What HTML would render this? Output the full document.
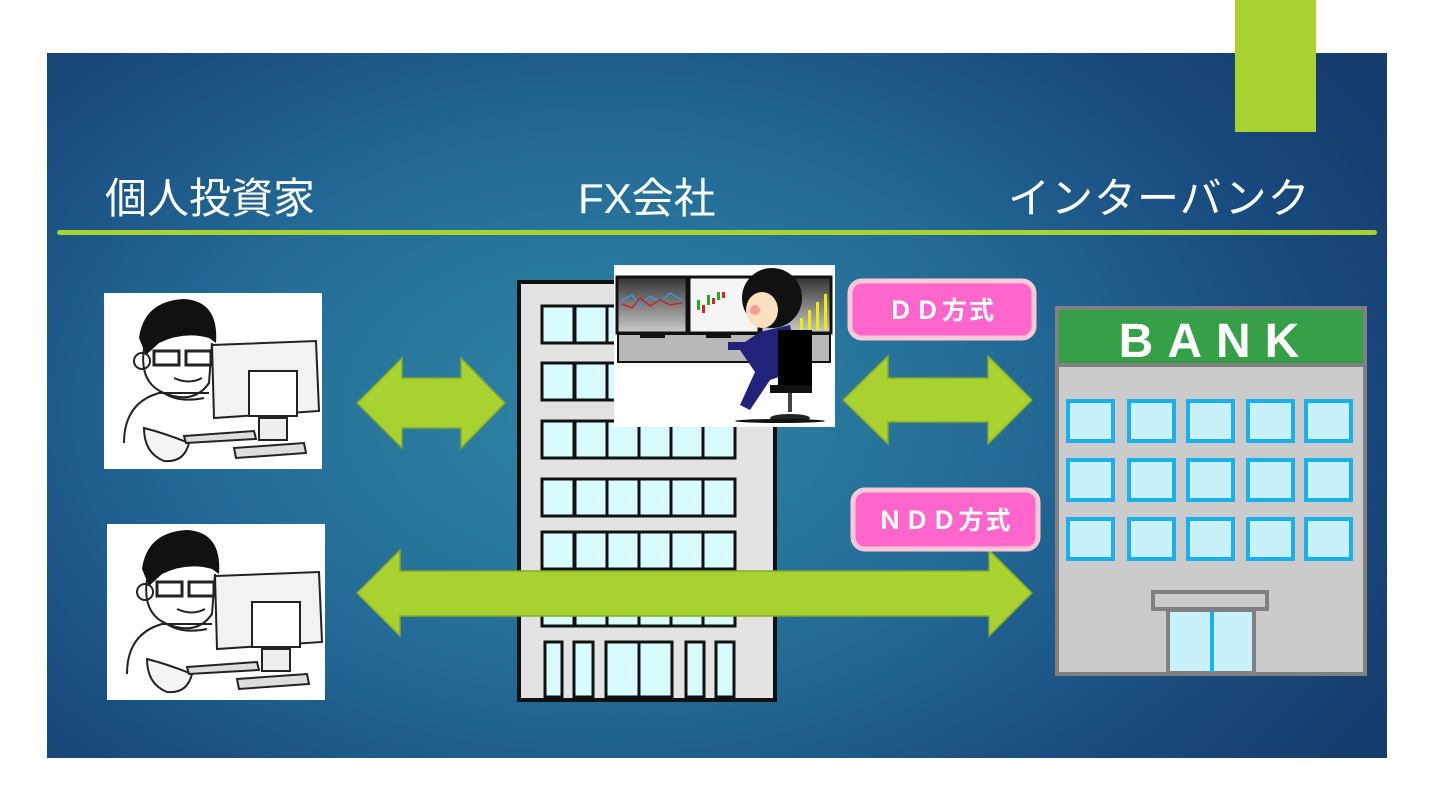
<!DOCTYPE html>
<html><head><meta charset="utf-8"><style>
html,body{margin:0;padding:0;background:#fff;}
body{width:1438px;height:812px;position:relative;overflow:hidden;font-family:"Liberation Sans","Noto Sans CJK JP",sans-serif;}
#slide{position:absolute;left:47px;top:53px;width:1340px;height:705px;
background:radial-gradient(ellipse 900px 600px at 560px 360px,#2f86a6 0%,#236b96 45%,#1a4d80 75%,#163c6d 100%);}
.t{position:absolute;color:#fff;font-size:42px;white-space:nowrap;line-height:1;}
</style></head><body>
<div id="slide"></div>
<div style="position:absolute;left:1235px;top:0;width:81px;height:132px;background:#a8d22f;"></div>
<div style="position:absolute;left:57px;top:230px;width:1320px;height:5px;border-radius:3px;background:#a8d22f;"></div>
<div class="t" style="left:105px;top:178px;">個人投資家</div>
<div class="t" style="left:578px;top:178px;">FX会社</div>
<div class="t" style="left:1008px;top:178px;letter-spacing:1px;">インターバンク</div>

<svg width="1438" height="812" style="position:absolute;left:0;top:0">
<defs>
<g id="person">
<rect x="0" y="0" width="218" height="176" fill="#fff"/>
<path d="M35 45 Q40 8 80 6 Q115 8 112 50 L105 45 Q80 38 55 50 L42 62 Z" fill="#111"/>
<path d="M40 55 Q35 90 60 100 Q90 112 105 90 L108 50" fill="none" stroke="#222" stroke-width="2"/>
<circle cx="38" cy="68" r="8" fill="none" stroke="#222" stroke-width="2"/>
<rect x="50" y="58" width="25" height="14" fill="none" stroke="#222" stroke-width="3"/>
<rect x="82" y="58" width="25" height="14" fill="none" stroke="#222" stroke-width="3"/>
<path d="M70 85 Q85 92 98 85" fill="none" stroke="#222" stroke-width="2"/>
<path d="M20 150 Q20 110 55 100 L105 100 M60 100 Q75 110 100 105" fill="none" stroke="#222" stroke-width="2"/>
<path d="M40 135 Q60 140 85 150 Q80 170 60 168 Q40 160 40 135Z" fill="#f4f4f4" stroke="#222" stroke-width="2"/>
<path d="M108 52 L212 48 L215 118 L110 125 Z" fill="#f2f2f2" stroke="#222" stroke-width="2"/>
<rect x="145" y="78" width="48" height="45" fill="#fff" stroke="#222" stroke-width="2"/>
<rect x="155" y="125" width="28" height="22" fill="#eee" stroke="#222" stroke-width="2"/>
<path d="M80 143 L150 138 L152 146 L82 150Z" fill="#ddd" stroke="#222" stroke-width="2"/>
<path d="M130 155 L200 150 L202 160 L132 165Z" fill="#ddd" stroke="#222" stroke-width="2"/>
</g>
<linearGradient id="scr" x1="0" y1="0" x2="0" y2="1"><stop offset="0" stop-color="#333"/><stop offset="1" stop-color="#ccc"/></linearGradient>
</defs>
<use href="#person" x="104" y="293"/>
<use href="#person" x="107" y="524"/>

<!-- FX building -->
<rect x="519" y="282" width="256" height="418" fill="#e3e3e3" stroke="#111" stroke-width="4"/>
<g fill="#d8fcfe" stroke="#111" stroke-width="3">
<g id="row">
<rect x="542" y="306" width="32" height="37"/><rect x="575" y="306" width="32" height="37"/><rect x="607" y="306" width="32" height="37"/><rect x="639" y="306" width="32" height="37"/><rect x="671" y="306" width="32" height="37"/><rect x="703" y="306" width="32" height="37"/>
</g>
<use href="#row" y="57"/><use href="#row" y="115"/><use href="#row" y="173"/><use href="#row" y="226"/><use href="#row" y="283"/>
<rect x="545" y="642" width="17" height="55"/><rect x="574" y="642" width="19" height="55"/><rect x="606" y="642" width="33" height="55"/><rect x="639" y="642" width="33" height="55"/><rect x="686" y="642" width="18" height="55"/><rect x="716" y="642" width="18" height="55"/>
</g>

<!-- trader -->
<rect x="614" y="265" width="221" height="162" fill="#fff"/>
<rect x="617" y="277" width="70" height="56" fill="url(#scr)" stroke="#111" stroke-width="3"/>
<polyline points="622,300 632,295 640,305 650,296 660,302 670,293 682,300" fill="none" stroke="#3399dd" stroke-width="1.5"/>
<polyline points="622,304 632,308 640,298 650,306 660,300 670,305 682,303" fill="none" stroke="#cc2222" stroke-width="1.5"/>
<rect x="689" y="277" width="70" height="56" fill="#f5f5f5" stroke="#111" stroke-width="3"/>
<g fill="#2a2"><rect x="697" y="300" width="3" height="10"/><rect x="707" y="295" width="3" height="10"/><rect x="717" y="292" width="3" height="8"/></g>
<g fill="#d22"><rect x="702" y="305" width="3" height="8"/><rect x="712" y="298" width="3" height="6"/><rect x="722" y="292" width="3" height="6"/></g>
<rect x="761" y="277" width="70" height="56" fill="url(#scr)" stroke="#111" stroke-width="3"/>
<g fill="#ee0"><rect x="800" y="318" width="3" height="12"/><rect x="808" y="310" width="3" height="20"/><rect x="816" y="302" width="3" height="28"/><rect x="824" y="294" width="3" height="36"/></g>
<rect x="618" y="334" width="212" height="28" fill="#b8b8b8" stroke="#111" stroke-width="2"/>
<rect x="640" y="333" width="25" height="5" fill="#111"/><rect x="706" y="333" width="25" height="5" fill="#111"/>
<circle cx="772" cy="298" r="30" fill="#111"/>
<ellipse cx="762" cy="310" rx="16" ry="18" fill="#fbe0c0"/>
<circle cx="755" cy="310" r="5" fill="#f99"/>
<path d="M760 332 L790 325 L800 370 L770 380 L750 410 L740 405 L755 372 L740 350 L728 350 L728 342 L745 342 Z" fill="#22227a"/>
<rect x="778" y="330" width="34" height="60" fill="#000"/>
<rect x="770" y="385" width="42" height="8" fill="#111"/>
<line x1="790" y1="393" x2="790" y2="412" stroke="#444" stroke-width="4"/>
<ellipse cx="790" cy="418" rx="20" ry="4" fill="#222"/>
<ellipse cx="780" cy="421" rx="45" ry="2" fill="#111"/>

<!-- arrows -->
<g fill="#a8d22f" stroke="#86a828" stroke-width="1.5">
<polygon points="357,403 402,358 402,378 461,378 461,358 505,403 461,448 461,428 402,428 402,448"/>
<polygon points="843,400 888,356 888,378 988,378 988,356 1032,400 988,444 988,422 888,422 888,444"/>
<polygon points="357,593 400,550 400,571 989,571 989,550 1032,593 989,636 989,616 400,616 400,636"/>
</g>

<!-- labels -->
<rect x="850" y="281" width="184" height="57" rx="12" fill="#ff66cc" stroke="#ffc8d6" stroke-width="5"/>
<text x="942" y="319" fill="#fff" font-size="25" font-weight="bold" text-anchor="middle" font-family="Liberation Sans,Noto Sans CJK JP,sans-serif" letter-spacing="2">ＤＤ方式</text>
<rect x="853" y="490" width="185" height="59" rx="12" fill="#ff66cc" stroke="#ffc8d6" stroke-width="5"/>
<text x="945" y="529" fill="#fff" font-size="25" font-weight="bold" text-anchor="middle" font-family="Liberation Sans,Noto Sans CJK JP,sans-serif" letter-spacing="2">ＮＤＤ方式</text>

<!-- bank -->
<rect x="1057" y="308" width="308" height="366" fill="#cbcbcb" stroke="#808080" stroke-width="4"/>
<rect x="1059" y="310" width="304" height="54" fill="#36a049"/>
<rect x="1057" y="363" width="308" height="4" fill="#808080"/>
<text x="1216" y="357" fill="#fff" font-size="48" font-weight="bold" text-anchor="middle" letter-spacing="14" font-family="Liberation Sans,sans-serif">BANK</text>
<g fill="#c8f2fb" stroke="#1ab0ee" stroke-width="4">
<g id="brow"><rect x="1068" y="401" width="45" height="40"/><rect x="1129" y="401" width="45" height="40"/><rect x="1188" y="401" width="45" height="40"/><rect x="1248" y="401" width="45" height="40"/><rect x="1306" y="401" width="45" height="40"/></g>
<use href="#brow" y="59"/><use href="#brow" y="118"/>
</g>
<rect x="1153" y="592" width="114" height="17" fill="#cbcbcb" stroke="#808080" stroke-width="4"/>
<rect x="1168" y="610" width="86" height="63" fill="#c8f2fb" stroke="#808080" stroke-width="4"/>
<line x1="1212" y1="612" x2="1212" y2="672" stroke="#1ab0ee" stroke-width="4"/>
</svg>
</body></html>
